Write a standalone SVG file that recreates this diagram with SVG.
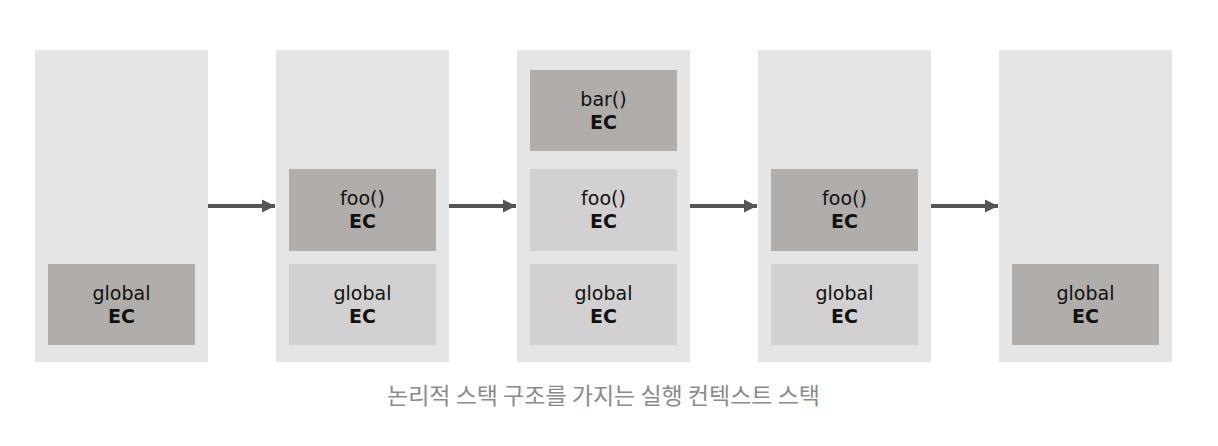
<svg xmlns="http://www.w3.org/2000/svg" width="1218" height="446" viewBox="0 0 1218 446">
<defs>
<style>
.panel{fill:#e5e5e5}
.dark{fill:#b0adab}
.light{fill:#d2d0d0}
.t1{font-family:"DejaVu Sans","Noto Sans CJK KR",sans-serif;font-size:19px;fill:#111;text-anchor:middle}
.t2{font-family:"DejaVu Sans","Noto Sans CJK KR",sans-serif;font-size:19px;font-weight:bold;fill:#111;text-anchor:middle}
.cap{font-family:"Noto Sans CJK KR",sans-serif;font-size:23px;fill:#8a8a8a;text-anchor:middle}
.conn{stroke:#555;stroke-width:4;fill:none}
</style>
<marker id="ah" markerUnits="userSpaceOnUse" markerWidth="14" markerHeight="14" refX="13" refY="7" orient="auto" viewBox="0 0 14 14">
<path d="M0,0.5 L13,7 L0,13.5 Z" fill="#555"/>
</marker>
</defs>
<rect width="1218" height="446" fill="#fff"/>
<g id="panel1">
<rect class="panel" x="35" y="50" width="173" height="312"/>
<g id="p1-global"><rect class="dark" x="48" y="264" width="147" height="81"/><text class="t1" x="121.5" y="300">global</text><text class="t2" x="121.5" y="323">EC</text></g>
</g>
<g id="panel2">
<rect class="panel" x="276" y="50" width="173" height="312"/>
<g id="p2-foo"><rect class="dark" x="289" y="169" width="147" height="82"/><text class="t1" x="362.5" y="205">foo()</text><text class="t2" x="362.5" y="228">EC</text></g>
<g id="p2-global"><rect class="light" x="289" y="264" width="147" height="81"/><text class="t1" x="362.5" y="300">global</text><text class="t2" x="362.5" y="323">EC</text></g>
</g>
<g id="panel3">
<rect class="panel" x="517" y="50" width="173" height="312"/>
<g id="p3-bar"><rect class="dark" x="530" y="70" width="147" height="81"/><text class="t1" x="603.5" y="106">bar()</text><text class="t2" x="603.5" y="129">EC</text></g>
<g id="p3-foo"><rect class="light" x="530" y="169" width="147" height="82"/><text class="t1" x="603.5" y="205">foo()</text><text class="t2" x="603.5" y="228">EC</text></g>
<g id="p3-global"><rect class="light" x="530" y="264" width="147" height="81"/><text class="t1" x="603.5" y="300">global</text><text class="t2" x="603.5" y="323">EC</text></g>
</g>
<g id="panel4">
<rect class="panel" x="758" y="50" width="173" height="312"/>
<g id="p4-foo"><rect class="dark" x="771" y="169" width="147" height="82"/><text class="t1" x="844.5" y="205">foo()</text><text class="t2" x="844.5" y="228">EC</text></g>
<g id="p4-global"><rect class="light" x="771" y="264" width="147" height="81"/><text class="t1" x="844.5" y="300">global</text><text class="t2" x="844.5" y="323">EC</text></g>
</g>
<g id="panel5">
<rect class="panel" x="999" y="50" width="173" height="312"/>
<g id="p5-global"><rect class="dark" x="1012" y="264" width="147" height="81"/><text class="t1" x="1085.5" y="300">global</text><text class="t2" x="1085.5" y="323">EC</text></g>
</g>
<g id="connectors">
<line class="conn" x1="208" y1="206" x2="275" y2="206" marker-end="url(#ah)"/>
<line class="conn" x1="449" y1="206" x2="516" y2="206" marker-end="url(#ah)"/>
<line class="conn" x1="690" y1="206" x2="757" y2="206" marker-end="url(#ah)"/>
<line class="conn" x1="931" y1="206" x2="998" y2="206" marker-end="url(#ah)"/>
</g>
<text class="cap" x="603.5" y="404">논리적 스택 구조를 가지는 실행 컨텍스트 스택</text>
</svg>
